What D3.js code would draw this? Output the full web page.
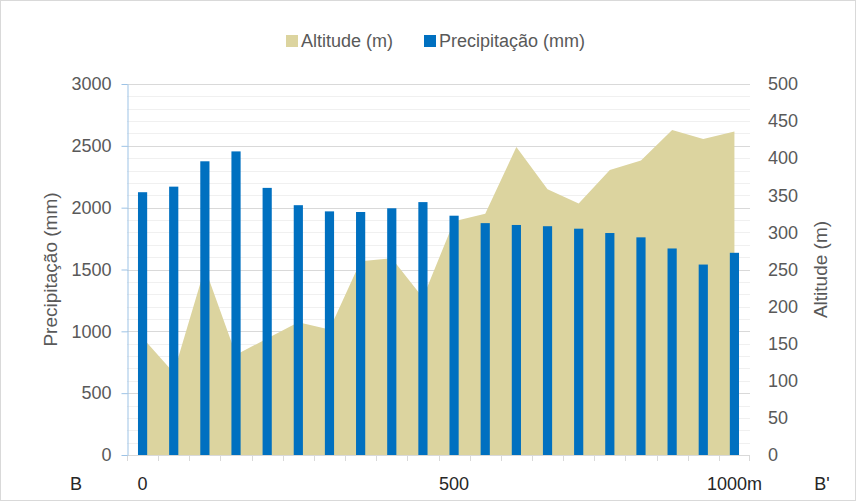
<!DOCTYPE html>
<html>
<head>
<meta charset="utf-8">
<script src="https://cdn.jsdelivr.net/npm/d3@7"></script>
<style>
  html, body { margin: 0; padding: 0; background: #fff; }
  svg { display: block; font-family: "Liberation Sans", Arial, sans-serif; }
</style>
</head>
<body>
<svg id="chart" width="856" height="501"></svg>
<script>
// Sampling points along the B–B' profile
const categories = ["P1","P2","P3","P4","P5","P6","P7","P8","P9","P10",
                    "P11","P12","P13","P14","P15","P16","P17","P18","P19","P20"];
// Annual precipitation (mm), left axis
const precipitation = [2125, 2170, 2375, 2455, 2160, 2020, 1970, 1965, 1995, 2045,
                       1935, 1875, 1860, 1850, 1830, 1795, 1760, 1670, 1540, 1635];
// Terrain altitude (m), right axis
const altitude = [158, 111, 252, 135, 157, 179, 169, 261, 265, 212,
                  315, 325, 415, 358, 339, 384, 397, 438, 426, 436];
// Axis ticks
const precipTicks = [0, 500, 1000, 1500, 2000, 2500, 3000];
const precipMinorTicks = [100,200,300,400,600,700,800,900,1100,1200,1300,1400,1600,1700,1800,1900,
                          2100,2200,2300,2400,2600,2700,2800,2900];
const altitudeTicks = [0, 50, 100, 150, 200, 250, 300, 350, 400, 450, 500];
// Distance markers under the profile and its end points
const distanceLabels = ["0", "500", "1000m"];
const distanceAt = ["P1", "P11", "P20"];
const endLabels = ["B", "B'"];

const seriesNames = ["Altitude (m)", "Precipitação (mm)"];
const colors = { altitude: "#dcd49f", precipitation: "#0070c0" };

const svg = d3.select("#chart");
const W = 856, H = 501;
const plot = { left: 127, right: 750, top: 84, bottom: 455 };

// chart frame
svg.append("rect").attr("x", 0.5).attr("y", 0.5).attr("width", W - 1).attr("height", H - 1)
  .attr("fill", "#fff").attr("stroke", "#d9d9d9");

const x = d3.scaleBand().domain(categories).range([plot.left, plot.right]).padding(0);
const yL = d3.scaleLinear().domain([0, 3000]).range([plot.bottom, plot.top]);
const yR = d3.scaleLinear().domain([0, 500]).range([plot.bottom, plot.top]);
const bw = x.bandwidth();
const cx = c => x(c) + bw / 2;

// gridlines
svg.append("g").selectAll("line").data(precipMinorTicks).join("line")
  .attr("x1", plot.left).attr("x2", plot.right)
  .attr("y1", d => Math.round(yL(d)) + 0.5).attr("y2", d => Math.round(yL(d)) + 0.5)
  .attr("stroke", "#f0f0f0").attr("stroke-width", 1);
svg.append("g").selectAll("line").data(precipTicks.filter(d => d > 0)).join("line")
  .attr("x1", plot.left).attr("x2", plot.right)
  .attr("y1", d => Math.round(yL(d)) + 0.5).attr("y2", d => Math.round(yL(d)) + 0.5)
  .attr("stroke", "#d9d9d9").attr("stroke-width", 1);

// altitude profile
const area = d3.area()
  .x((d, i) => cx(categories[i]))
  .y0(yR(0))
  .y1(d => yR(d));
svg.append("path").datum(altitude).attr("d", area).attr("fill", colors.altitude);

// precipitation columns
const barW = bw * 0.295;
svg.append("g").selectAll("rect").data(precipitation).join("rect")
  .attr("x", (d, i) => cx(categories[i]) - barW / 2)
  .attr("width", barW)
  .attr("y", d => yL(d))
  .attr("height", d => yL(0) - yL(d))
  .attr("fill", colors.precipitation);

// category axis (no labels, ticks between categories)
const xAxis = svg.append("g");
xAxis.append("line").attr("x1", plot.left).attr("x2", plot.right)
  .attr("y1", plot.bottom + 0.5).attr("y2", plot.bottom + 0.5).attr("stroke", "#d9d9d9");
xAxis.selectAll("line.tick").data(categories.concat(["end"])).join("line")
  .attr("class", "tick")
  .attr("x1", (d, i) => i < categories.length ? Math.round(x(d)) + 0.5 : plot.right - 0.5)
  .attr("x2", (d, i) => i < categories.length ? Math.round(x(d)) + 0.5 : plot.right - 0.5)
  .attr("y1", plot.bottom).attr("y2", plot.bottom + 6).attr("stroke", "#d9d9d9");

// left axis
const left = svg.append("g").attr("transform", `translate(${plot.left + 0.5},0)`)
  .call(d3.axisLeft(yL).tickValues(precipTicks).tickFormat(d3.format("d"))
    .tickSize(6).tickPadding(10).tickSizeOuter(0));
left.select(".domain").attr("stroke", "#9dc3e6");
left.selectAll(".tick line").attr("stroke", "#9dc3e6");
left.selectAll(".tick text").attr("fill", "#595959").style("font-size", "18px")
  .style("font-family", "Liberation Sans, Arial, sans-serif");

// right axis
const right = svg.append("g").attr("transform", `translate(${plot.right},0)`)
  .call(d3.axisRight(yR).tickValues(altitudeTicks).tickFormat(d3.format("d"))
    .tickSize(0).tickPadding(18));
right.select(".domain").remove();
right.selectAll(".tick text").attr("fill", "#595959").style("font-size", "18px")
  .style("font-family", "Liberation Sans, Arial, sans-serif");

// axis titles
const midY = (plot.top + plot.bottom) / 2;
svg.append("text").attr("transform", `translate(57,${midY}) rotate(-90)`)
  .attr("text-anchor", "middle").attr("fill", "#595959").style("font-size", "19px")
  .text("Precipitação (mm)");
svg.append("text").attr("transform", `translate(827,${midY}) rotate(-90)`)
  .attr("text-anchor", "middle").attr("fill", "#595959").style("font-size", "19px")
  .text("Altitude (m)");

// distance markers
svg.append("g").selectAll("text").data(distanceLabels).join("text")
  .attr("x", (d, i) => cx(distanceAt[i]))
  .attr("y", 490).attr("text-anchor", "middle")
  .attr("fill", "#262626").style("font-size", "18px")
  .text(d => d);
svg.append("text").attr("x", 76).attr("y", 490).attr("text-anchor", "middle")
  .attr("fill", "#262626").style("font-size", "18px").text(endLabels[0]);
svg.append("text").attr("x", 822).attr("y", 490).attr("text-anchor", "middle")
  .attr("fill", "#262626").style("font-size", "18px").text(endLabels[1]);

// legend
const legend = svg.append("g");
const legendX = [286, 424];
const legendColors = [colors.altitude, colors.precipitation];
seriesNames.forEach((name, i) => {
  legend.append("rect").attr("x", legendX[i]).attr("y", 35).attr("width", 12).attr("height", 12)
    .attr("fill", legendColors[i]);
  legend.append("text").attr("x", legendX[i] + 15).attr("y", 47)
    .attr("fill", "#595959").style("font-size", "18px").text(name);
});
</script>
</body>
</html>
